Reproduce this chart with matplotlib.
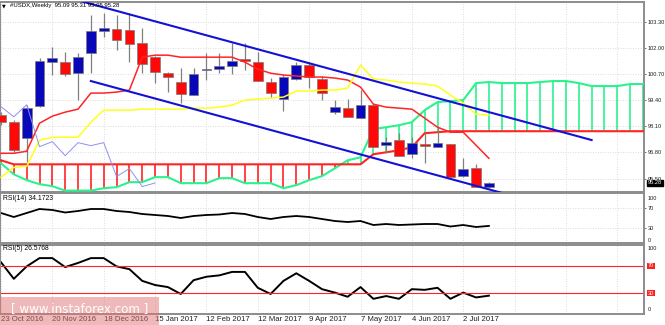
import matplotlib
matplotlib.use("Agg")
import matplotlib.pyplot as plt
from matplotlib.patches import Rectangle

# weekly USDX candles, first bar is the week of 23 Oct 2016
opens = [98.68, 98.33, 97.54, 99.13, 101.31, 101.31, 100.77, 101.76, 102.85, 102.95,
         102.90, 102.26, 101.56, 100.77, 100.32, 99.67, 100.92, 100.96, 101.11, 101.46,
         101.31, 100.32, 99.47, 100.47, 101.16, 100.47, 98.83, 99.03, 98.53, 99.18,
         97.19, 97.44, 96.74, 97.24, 97.09, 97.24, 95.65, 96.05, 95.09]
highs = [98.83, 98.40, 99.18, 101.51, 102.06, 101.81, 101.76, 103.65, 103.75, 103.65,
         103.75, 103.00, 101.60, 100.82, 101.01, 101.01, 101.76, 101.76, 102.26, 102.26,
         101.81, 100.52, 100.67, 101.31, 101.31, 100.62, 99.42, 99.47, 99.92, 99.23,
         97.59, 97.79, 97.59, 97.79, 98.08, 97.24, 96.54, 96.25, 95.31]
lows = [98.18, 96.84, 96.34, 99.08, 100.67, 100.62, 99.42, 100.77, 102.55, 101.91,
        101.31, 100.77, 100.27, 99.82, 99.28, 99.67, 100.42, 100.77, 100.72, 100.92,
        100.37, 99.52, 98.88, 100.42, 100.02, 99.42, 98.73, 98.58, 98.53, 97.09,
        96.79, 96.64, 96.54, 96.30, 97.09, 95.60, 95.60, 95.10, 95.05]
closes = [98.33, 96.94, 99.03, 101.36, 101.51, 100.72, 101.56, 102.85, 103.00, 102.41,
          102.21, 101.21, 100.82, 100.57, 99.72, 100.72, 100.95, 101.11, 101.36, 101.36,
          100.37, 99.77, 100.57, 101.16, 100.57, 99.77, 99.08, 98.58, 99.18, 97.09,
          97.34, 96.64, 97.29, 97.14, 97.29, 95.60, 96.00, 95.10, 95.28]

# ichimoku lines
tenkan = [96.76, 96.76, 96.86, 98.26, 98.61, 98.81, 98.96, 99.76, 99.76, 99.81,
          99.91, 101.55, 101.65, 101.65, 101.55, 101.55, 101.55, 101.55, 101.55, 101.30,
          100.95, 100.75, 100.66, 100.61, 100.56, 100.56, 100.51, 100.41, 100.06, 99.21,
          99.06, 99.01, 98.96, 98.51, 98.06, 97.81, 97.81, 97.16, 96.51]
kijun = [95.57, 96.06, 96.11, 97.41, 97.56, 97.56, 97.56, 98.31, 98.91, 98.91,
         98.91, 98.96, 98.96, 98.96, 98.96, 99.01, 99.01, 99.06, 99.16, 99.41,
         99.46, 99.51, 99.56, 99.86, 99.86, 99.91, 99.91, 100.01, 101.15, 100.46,
         100.41, 100.31, 100.26, 100.21, 100.11, 99.66, 99.26, 98.71, 98.66]
senkou_a = [96.26, 95.71, 95.42, 95.22, 95.12, 94.90, 94.90, 94.90, 95.02, 95.07,
            95.32, 95.32, 95.57, 95.57, 95.27, 95.27, 95.27, 95.52, 95.52, 95.27,
            95.27, 95.27, 95.02, 95.17, 95.42, 95.62, 96.01, 96.41, 96.56, 97.96,
            98.06, 98.16, 98.31, 98.91, 99.31, 99.36, 99.41, 100.26, 100.31, 100.26,
            100.26, 100.26, 100.31, 100.36, 100.36, 100.26, 100.11, 100.11, 100.11, 100.21,
            100.21]
senkou_b = [96.41, 96.21, 96.21, 96.21, 96.21, 96.21, 96.21, 96.21, 96.21, 96.21,
            96.21, 96.21, 96.21, 96.21, 96.21, 96.21, 96.21, 96.21, 96.21, 96.21,
            96.21, 96.21, 96.21, 96.21, 96.21, 96.21, 96.21, 96.21, 96.21, 96.71,
            96.81, 96.91, 97.06, 97.76, 97.81, 97.86, 97.86, 97.86, 97.86, 97.86,
            97.86, 97.86, 97.86, 97.86, 97.86, 97.86, 97.86, 97.86, 97.86, 97.86,
            97.86]
chikou_shift = 26

# channel lines as (bar index, price)
upper_channel = [(6.0, 104.38), (46.0, 97.42)]
lower_channel = [(7.0, 100.36), (39.1, 94.77)]

rsi14 = [60, 52, 60, 68, 66, 61, 64, 68, 68, 64, 62, 58, 56, 54, 50, 54, 56, 57, 60, 58,
         52, 48, 52, 54, 52, 48, 44, 42, 44, 36, 38, 36, 37, 38, 38, 33, 36, 32, 34.17]
rsi5 = [75, 51, 69, 81, 81, 68, 74, 81, 81, 69, 65, 48, 42, 39, 29, 49, 54, 56, 61, 61,
        38, 29, 48, 59, 48, 36, 31, 25, 39, 22, 26, 22, 36, 35, 38, 22, 31, 24, 26.58]

date_labels = ["23 Oct 2016", "20 Nov 2016", "18 Dec 2016", "15 Jan 2017", "12 Feb 2017",
               "12 Mar 2017", "9 Apr 2017", "7 May 2017", "4 Jun 2017", "2 Jul 2017"]
price_ticks = [95.50, 96.80, 98.10, 99.40, 100.70, 102.00, 103.30]

BULL = "#0808b8"
BEAR = "#ff0808"
GREEN = "#2cf28e"
RED = "#ff2424"
BORDER = "#8c8c8c"
GRID = "#d0d0d0"
FONT = "Liberation Sans"
AXSIZE = 4.1

W, H = 665, 325
fig = plt.figure(figsize=(W / 100, H / 100), dpi=100)
fig.patch.set_facecolor("white")


def panel(top, bottom):
    ax = fig.add_axes([0, 1 - bottom / H, 644 / W, (bottom - top) / H])
    ax.set_xlim(-0.078, 50.08)
    for s in ax.spines.values():
        s.set_color(BORDER)
        s.set_linewidth(1.4)
    ax.yaxis.tick_right()
    ax.tick_params(axis="y", length=1.5, width=0.6, color="#606060", pad=1,
                   labelsize=AXSIZE, labelcolor="#202020")
    ax.set_xticks(range(0, 51, 4))
    ax.tick_params(axis="x", length=0)
    ax.set_xticklabels([])
    ax.grid(axis="x", color=GRID, linestyle=(0, (1, 2)), linewidth=0.6)
    return ax


def right_label(axis, y, text, **kw):
    axis.text(1.006, y, text, transform=axis.get_yaxis_transform(), fontsize=AXSIZE,
              fontfamily=FONT, va="center", ha="left", clip_on=False, **kw)


ax = panel(2, 192)
ax.set_ylim(94.83, 104.30)
ax.set_yticks(price_ticks)
ax.set_yticklabels(["%.2f" % p for p in price_ticks], fontfamily=FONT)
ax.grid(axis="y", color=GRID, linestyle=(0, (1, 2)), linewidth=0.6)

# cloud: hatch lines between the two spans
for i, (a, b) in enumerate(zip(senkou_a, senkou_b)):
    ax.vlines(i, min(a, b), max(a, b), color=GREEN if a > b else RED, lw=1.2, zorder=2)
ax.plot(range(len(senkou_a)), senkou_a, color=GREEN, lw=1.5, zorder=3)
ax.plot(range(len(senkou_b)), senkou_b, color=RED, lw=1.5, zorder=3)

# candles
for i in range(len(opens)):
    o, h, l, c = opens[i], highs[i], lows[i], closes[i]
    ax.vlines(i, l, h, color="#808080", lw=0.9, zorder=4)
    lo, hi = min(o, c), max(o, c)
    col = BULL if c >= o else BEAR
    ax.add_patch(Rectangle((i - 0.38, lo), 0.76, max(hi - lo, 0.03), facecolor=col,
                           edgecolor="#7a7a7a", lw=0.5, zorder=5))

ax.plot(range(len(tenkan)), tenkan, color=RED, lw=1.1, zorder=6)
ax.plot(range(len(kijun)), kijun, color="#ffff1a", lw=1.1, zorder=6)
chikou = closes[chikou_shift:]
ax.plot(range(len(chikou)), chikou, color="#8f8ff2", lw=0.7, zorder=6)

for line in (upper_channel, lower_channel):
    xs, ys = zip(*line)
    ax.plot(xs, ys, color="#1212d6", lw=1.5, zorder=7)

right_label(ax, closes[-1], "%.2f" % closes[-1], color="white", zorder=10,
            bbox=dict(boxstyle="square,pad=0.15", fc="black", ec="black"))

# RSI(14)
ax14 = panel(193, 243)
ax14.set_ylim(0, 100)
ax14.plot(range(len(rsi14)), rsi14, color="black", lw=1.3)
ax14.set_yticks([70, 30])
ax14.set_yticklabels(["70", "30"], fontfamily=FONT)
ax14.grid(axis="y", color=GRID, linestyle=(0, (1, 2)), linewidth=0.6)
right_label(ax14, 88, "100", color="#202020")
right_label(ax14, 6, "0", color="#202020")

# RSI(5)
ax5 = panel(245, 314)
ax5.set_ylim(0, 100)
ax5.plot(range(len(rsi5)), rsi5, color="black", lw=1.4)
for lvl in (70, 30):
    ax5.axhline(lvl, color=RED, lw=0.8)
    right_label(ax5, lvl, str(lvl), color="white",
                bbox=dict(boxstyle="square,pad=0.1", fc="#ff2020", ec="none"))
ax5.set_yticks([])
right_label(ax5, 95.5, "100", color="#202020")
right_label(ax5, 6, "0", color="#202020")

ax5.set_xticks(range(0, 51, 4))
ax5.set_xticklabels(date_labels + ["", "", ""], fontfamily=FONT, fontsize=5.6,
                    color="#202020")
ax5.tick_params(axis="x", length=0, pad=1.5)
for lab in ax5.get_xticklabels():
    lab.set_ha("left")

# headers
fig.text(2 / W, 1 - 6 / H, "\u25bc", fontsize=3.5, va="center", color="black")
fig.text(10 / W, 1 - 6 / H, "#USDX,Weekly  95.09 95.31 95.05 95.28", fontsize=4.3,
         fontfamily=FONT, va="center", color="black")
fig.text(3 / W, 1 - 198 / H, "RSI(14) 34.1723", fontsize=4.9, fontfamily=FONT,
         va="center", color="black")
fig.text(3 / W, 1 - 249 / H, "RSI(5) 26.5768", fontsize=4.9, fontfamily=FONT,
         va="center", color="black")

# watermark
fig.patches.append(Rectangle((0, 0), 159 / W, 28 / H, transform=fig.transFigure,
                             facecolor="#e07474", alpha=0.5, edgecolor="none", zorder=20))
fig.text(80 / W, 1 - 309 / H, "[ www.instaforex.com ]", fontsize=8.6, color="white",
         ha="center", va="center", zorder=21)

fig.savefig("out.png", dpi=100, facecolor="white")
